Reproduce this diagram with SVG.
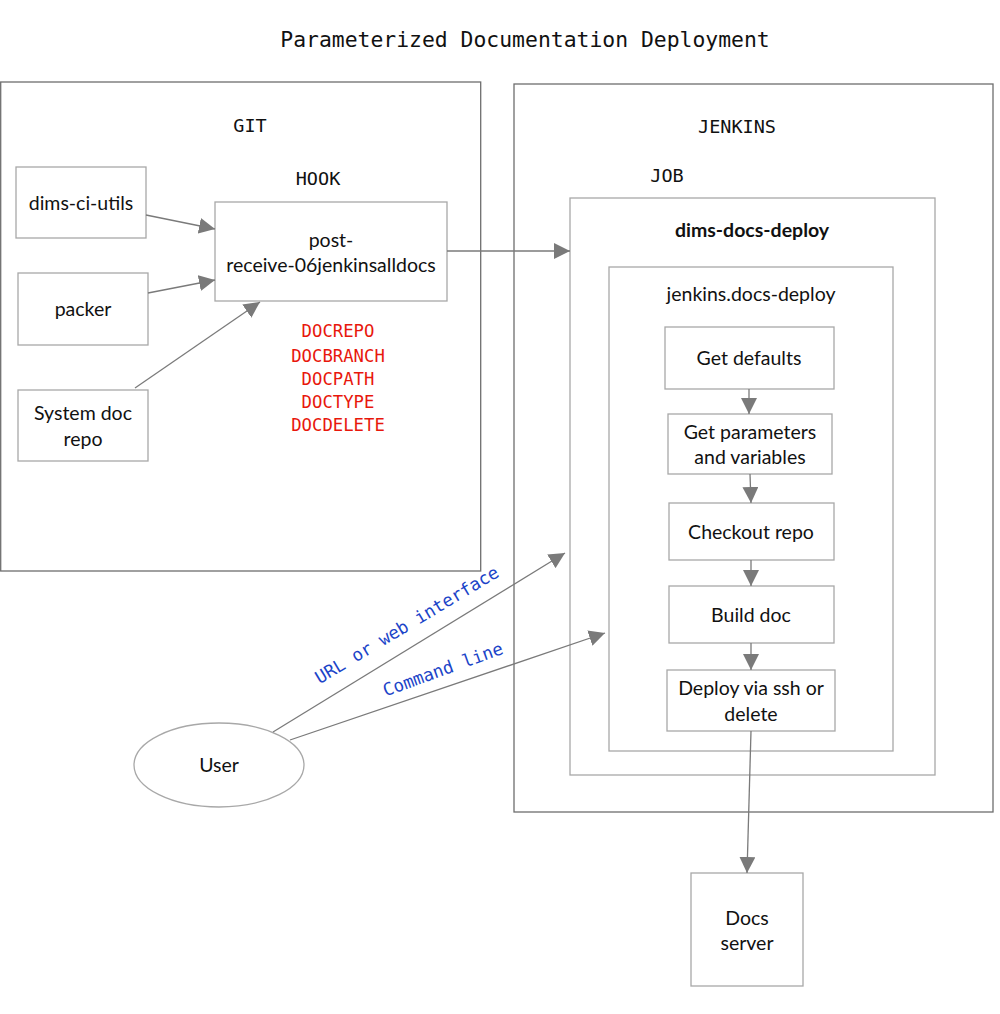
<svg xmlns="http://www.w3.org/2000/svg" width="1000" height="1014" viewBox="0 0 1000 1014">
<style>
.mono{font-family:"DejaVu Sans Mono","Liberation Mono",monospace;}
.title{font-size:21.4px;fill:#111;}
.lbl{font-size:18.5px;fill:#111;}
.var{font-size:17.3px;fill:#e8170c;}
.blue{font-size:17.5px;fill:#1b44c8;}
.node{font-family:Lato,"Open Sans",sans-serif;font-size:19.5px;fill:#111;}
.bold{font-weight:bold;}
.outer{fill:none;stroke:#6e6e6e;stroke-width:1.3;}
.box{fill:#fff;stroke:#a8a8a8;stroke-width:1.3;}
.conn{stroke:#7a7a7a;stroke-width:1.3;fill:none;marker-end:url(#arr);}
</style>
<defs>
<marker id="arr" viewBox="0 0 10 10" refX="10" refY="5" markerWidth="16" markerHeight="16" markerUnits="userSpaceOnUse" orient="auto">
<path d="M0,0 L10,5 L0,10 z" fill="#7a7a7a"/>
</marker>
</defs>
<rect width="1000" height="1014" fill="#fff"/>
<text class="mono title" x="525" y="47" text-anchor="middle">Parameterized Documentation Deployment</text>

<g id="git">
<rect class="outer" x="0.7" y="82" width="480" height="489"/>
<text class="mono lbl" x="250" y="132" text-anchor="middle">GIT</text>
<text class="mono lbl" x="318" y="185" text-anchor="middle">HOOK</text>
</g>
<g id="jenkins">
<rect class="outer" x="514" y="84" width="479" height="728"/>
<text class="mono lbl" x="737" y="133" text-anchor="middle">JENKINS</text>
<text class="mono lbl" x="667" y="182" text-anchor="middle">JOB</text>
</g>
<g id="job">
<rect class="box" x="570" y="198" width="365" height="577"/>
<text class="node bold" x="752" y="237" text-anchor="middle">dims-docs-deploy</text>
</g>
<g id="script">
<rect class="box" x="609" y="267" width="284" height="484"/>
<text class="node" x="751" y="301" text-anchor="middle">jenkins.docs-deploy</text>
</g>

<g id="dims-ci-utils">
<rect class="box" x="16" y="167" width="130" height="71"/>
<text class="node" x="81" y="210" text-anchor="middle">dims-ci-utils</text>
</g>
<g id="packer">
<rect class="box" x="18" y="273" width="130" height="72"/>
<text class="node" x="83" y="316" text-anchor="middle">packer</text>
</g>
<g id="sysdoc">
<rect class="box" x="18" y="390" width="130" height="71"/>
<text class="node" x="83" y="420" text-anchor="middle">System doc</text>
<text class="node" x="83" y="446" text-anchor="middle">repo</text>
</g>
<g id="hook">
<rect class="box" x="215" y="202" width="232" height="99"/>
<text class="node" x="331" y="247" text-anchor="middle">post-</text>
<text class="node" x="331" y="272" text-anchor="middle">receive-06jenkinsalldocs</text>
</g>
<g id="vars">
<text class="mono var" x="338" y="337" text-anchor="middle">DOCREPO</text>
<text class="mono var" x="338" y="362" text-anchor="middle">DOCBRANCH</text>
<text class="mono var" x="338" y="385" text-anchor="middle">DOCPATH</text>
<text class="mono var" x="338" y="408" text-anchor="middle">DOCTYPE</text>
<text class="mono var" x="338" y="431" text-anchor="middle">DOCDELETE</text>
</g>

<g id="get-defaults">
<rect class="box" x="665" y="327" width="169" height="62"/>
<text class="node" x="749" y="365" text-anchor="middle">Get defaults</text>
</g>
<g id="get-params">
<rect class="box" x="668" y="414" width="164" height="60"/>
<text class="node" x="750" y="439" text-anchor="middle">Get parameters</text>
<text class="node" x="750" y="464" text-anchor="middle">and variables</text>
</g>
<g id="checkout">
<rect class="box" x="669" y="503" width="165" height="57"/>
<text class="node" x="751" y="539" text-anchor="middle">Checkout repo</text>
</g>
<g id="build">
<rect class="box" x="669" y="586" width="165" height="57"/>
<text class="node" x="751" y="622" text-anchor="middle">Build doc</text>
</g>
<g id="deploy">
<rect class="box" x="667" y="670" width="168" height="61"/>
<text class="node" x="751" y="695" text-anchor="middle">Deploy via ssh or</text>
<text class="node" x="751" y="721" text-anchor="middle">delete</text>
</g>
<g id="docs-server">
<rect class="box" x="691" y="873" width="112" height="113"/>
<text class="node" x="747" y="925" text-anchor="middle">Docs</text>
<text class="node" x="747" y="950" text-anchor="middle">server</text>
</g>
<g id="user">
<ellipse cx="219" cy="765" rx="85" ry="42" fill="#fff" stroke="#a8a8a8" stroke-width="1.3"/>
<text class="node" x="219" y="772" text-anchor="middle">User</text>
</g>

<g id="connectors">
<line class="conn" x1="146" y1="215" x2="215" y2="229"/>
<line class="conn" x1="148" y1="293" x2="215" y2="280"/>
<line class="conn" x1="135" y1="388" x2="260" y2="302"/>
<line class="conn" x1="447" y1="251" x2="570" y2="251"/>
<line class="conn" x1="749" y1="389" x2="749" y2="414"/>
<line class="conn" x1="750" y1="474" x2="751" y2="503"/>
<line class="conn" x1="751" y1="560" x2="751" y2="586"/>
<line class="conn" x1="751" y1="643" x2="751" y2="670"/>
<line class="conn" x1="751" y1="731" x2="747" y2="873"/>
<line class="conn" x1="273" y1="732" x2="565" y2="553"/>
<line class="conn" x1="290" y1="740" x2="605" y2="633"/>
<text class="mono blue" x="410" y="630" text-anchor="middle" transform="rotate(-31 410 630)">URL or web interface</text>
<text class="mono blue" x="445" y="675" text-anchor="middle" transform="rotate(-20 445 675)">Command line</text>
</g>
</svg>
